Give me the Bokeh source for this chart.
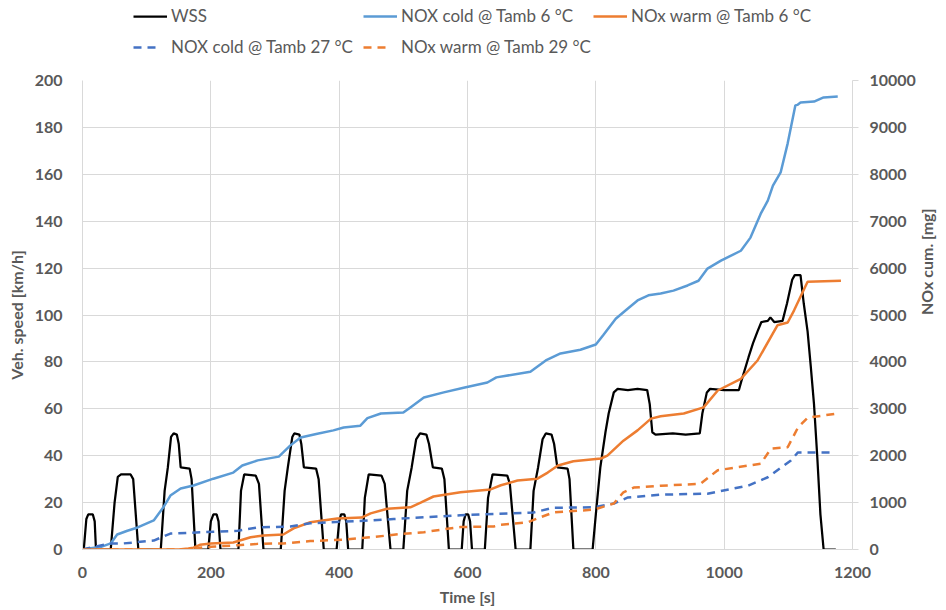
import math
from bokeh.plotting import figure
from bokeh.layouts import column
from bokeh.models import Range1d, LinearAxis, SingleIntervalTicker, Legend, LegendItem
from bokeh.embed import file_html
from bokeh.resources import INLINE

# ---- data ----
wss_t = [0, 2, 6, 9, 16, 19, 21,
         44, 50, 55, 60, 75, 79, 87,
         122, 128, 133, 138, 142, 147, 150, 153, 167, 170, 176,
         196, 200, 204, 209, 212, 215,
         243, 247, 252, 270, 275, 282,
         309, 315, 320, 327, 330, 338, 341, 345, 364, 368, 376,
         396, 400, 403, 408, 411, 414,
         436, 440, 446, 466, 471, 480,
         500, 506, 513, 520, 526, 536, 540, 546, 560, 564, 571,
         591, 594, 597, 601, 604, 607,
         627, 632, 639, 662, 666, 675,
         698, 703, 710, 717, 722, 731, 735, 740, 756, 759, 765,
         795, 800, 807, 815, 820, 828, 834, 850, 865, 880, 884, 888, 893, 920, 940, 962,
         966, 973, 978, 1000, 1023, 1027, 1038, 1045, 1052, 1058, 1068, 1072, 1078, 1091,
         1098, 1106, 1110, 1119, 1124, 1130, 1135, 1140, 1145, 1150, 1155, 1174]
wss_v = [0, 0, 13, 15, 15, 12, 0,
         0, 20, 31, 32, 32, 30, 0,
         0, 25, 35, 48, 49.5, 49, 45, 35, 34.5, 30, 0,
         0, 12, 15, 15, 12, 0,
         0, 25, 32, 31.5, 28, 0,
         0, 25, 35, 48, 49.5, 49, 45, 35, 34.5, 30, 0,
         0, 12, 15, 15, 12, 0,
         0, 22, 32, 31.5, 28, 0,
         0, 25, 35, 47, 49.5, 49, 45, 35, 34.5, 30, 0,
         0, 12, 15, 15, 12, 0,
         0, 22, 32, 31.5, 28, 0,
         0, 25, 35, 47, 49.5, 49, 45, 35, 34.5, 30, 0,
         0, 15, 35, 50, 58, 67, 68.5, 68, 68.5, 68, 62, 50, 49, 49.5, 49, 49.5,
         58, 67, 68.5, 68, 68, 72, 82, 88, 93, 97, 97.5, 99, 97, 97.5,
         105, 115, 117, 117, 105, 93, 78, 62, 40, 15, 0, 0]

cold6_t = [0, 10, 30, 44, 54, 70, 86, 111, 126, 137, 153, 173, 204, 235, 249, 273, 306, 324, 340,
           366, 391, 407, 433, 444, 465, 500, 511, 532, 563, 594, 631, 645, 698, 722, 745, 776,
           800, 812, 831, 850, 865, 882, 901, 921, 943, 960, 974, 995, 1026, 1041, 1057, 1068,
           1076, 1088, 1099, 1111, 1114, 1119, 1140, 1155, 1177]
cold6_n = [0, 20, 60, 130, 320, 400, 470, 620, 900, 1150, 1300, 1365, 1510, 1640, 1790, 1900, 1980,
           2220, 2390, 2470, 2540, 2600, 2640, 2800, 2900, 2920, 3030, 3240, 3350, 3450, 3560, 3670,
           3790, 4030, 4180, 4260, 4370, 4580, 4920, 5140, 5310, 5420, 5460, 5520, 5630, 5730, 5990,
           6160, 6370, 6650, 7160, 7440, 7760, 8040, 8660, 9470, 9480, 9530, 9550, 9640, 9660]

warm6_t = [0, 150, 165, 173, 183, 200, 235, 262, 282, 313, 329, 355, 397, 435, 449, 475, 511, 527,
           547, 589, 636, 652, 678, 709, 725, 741, 765, 808, 818, 843, 865, 886, 901, 937, 968, 990,
           1026, 1052, 1083, 1099, 1109, 1130, 1182]
warm6_n = [0, 0, 20, 40, 100, 130, 150, 260, 300, 320, 450, 580, 660, 680, 770, 870, 900, 1000,
           1130, 1220, 1280, 1370, 1470, 1510, 1640, 1790, 1880, 1940, 2000, 2320, 2540, 2790, 2840,
           2900, 3030, 3390, 3640, 4030, 4780, 4840, 5100, 5710, 5730]

cold27_t = [0, 20, 44, 64, 111, 137, 189, 242, 273, 324, 355, 449, 485, 589, 703, 734, 797, 828,
            850, 901, 974, 1037, 1068, 1104, 1115, 1169]
cold27_n = [0, 60, 130, 130, 190, 340, 370, 400, 470, 490, 560, 620, 650, 730, 790, 890, 900, 980,
            1110, 1170, 1190, 1360, 1540, 1900, 2070, 2070]

warm29_t = [0, 173, 183, 200, 242, 273, 313, 355, 407, 449, 496, 532, 589, 641, 652, 694, 714, 734,
            797, 828, 843, 859, 901, 963, 990, 1057, 1073, 1099, 1115, 1130, 1177]
warm29_n = [0, 0, 40, 60, 90, 120, 130, 180, 210, 260, 330, 370, 480, 490, 530, 580, 690, 790,
            850, 980, 1220, 1320, 1360, 1400, 1690, 1830, 2150, 2180, 2600, 2810, 2900]

labels = ["WSS", "NOX cold @ Tamb 6 \u00b0C", "NOx warm @ Tamb 6 \u00b0C",
          "NOX cold @ Tamb 27 \u00b0C", "NOx warm @ Tamb 29 \u00b0C"]

FONT = "Lato"
GRID = "#d9d9d9"
TXT = "#595959"
styles = [dict(line_color="black", line_width=2.25),
          dict(line_color="#5b9bd5", line_width=2.5),
          dict(line_color="#ed7d31", line_width=2.5),
          dict(line_color="#4472c4", line_width=2.5, line_dash="8 6"),
          dict(line_color="#ed7d31", line_width=2.5, line_dash="8 6")]
series = [(wss_t, wss_v), (cold6_t, cold6_n), (warm6_t, warm6_n),
          (cold27_t, cold27_n), (warm29_t, warm29_n)]

# ---------------- main chart ----------------
p = figure(frame_width=770, frame_height=469, output_backend="svg", toolbar_location=None,
           x_range=Range1d(0, 1200), y_range=Range1d(0, 200),
           min_border_left=82, min_border_right=94, min_border_top=16, min_border_bottom=61)
p.above = []
p.outline_line_color = None
p.extra_y_ranges = {"nox": Range1d(0, 10000)}

p.xaxis.ticker = SingleIntervalTicker(interval=200)
p.yaxis.ticker = SingleIntervalTicker(interval=20)
p.xgrid.ticker = SingleIntervalTicker(interval=200)
p.ygrid.ticker = SingleIntervalTicker(interval=20)
p.xgrid.grid_line_color = GRID
p.ygrid.grid_line_color = GRID

right = LinearAxis(y_range_name="nox", ticker=SingleIntervalTicker(interval=1000))
p.add_layout(right, "right")

for ax in [p.xaxis[0], p.yaxis[0], right]:
    ax.axis_line_color = GRID
    ax.major_tick_in = 0
    ax.major_tick_out = 0
    ax.minor_tick_line_color = None
    ax.major_label_text_font = FONT
    ax.major_label_text_font_style = "bold"
    ax.major_label_text_font_size = "16px"
    ax.major_label_text_color = TXT
    ax.axis_label_text_font = FONT
    ax.axis_label_text_font_style = "bold"
    ax.axis_label_text_font_size = "16px"
    ax.axis_label_text_color = TXT

right.major_tick_out = 6
right.major_tick_line_color = GRID
right.major_label_standoff = 11
right.axis_label = "NOx cum. [mg]"
right.axis_label_standoff = 8
if "axis_label_orientation" in right.properties():
    right.axis_label_orientation = math.pi / 2

p.yaxis[0].axis_label = "Veh. speed [km/h]"
p.yaxis[0].major_label_standoff = 16
p.yaxis[0].axis_label_standoff = 6
p.xaxis[0].axis_label = "Time [s]"
p.xaxis[0].major_label_standoff = 13
p.xaxis[0].axis_label_standoff = 6

p.line(wss_t, wss_v, **styles[0])
p.line(cold6_t, cold6_n, y_range_name="nox", **styles[1])
p.line(warm6_t, warm6_n, y_range_name="nox", **styles[2])
p.line(cold27_t, cold27_n, y_range_name="nox", **styles[3])
p.line(warm29_t, warm29_n, y_range_name="nox", **styles[4])

# ---------------- legend strip (same series, kept out of its view) ----------------
lg = figure(width=946, height=64, output_backend="svg", toolbar_location=None,
            x_axis_location=None, y_axis_location=None, min_border=0,
            x_range=Range1d(0, 1200), y_range=Range1d(-2e5, -1e5))
lg.above = []
lg.outline_line_color = None
lg.xgrid.visible = False
lg.ygrid.visible = False
keys = [lg.line(x, y, **s) for (x, y), s in zip(series, styles)]

common = dict(orientation="horizontal", glyph_height=18, label_height=18, label_width=184,
              spacing=8, padding=0, margin=0, border_line_color=None, background_fill_alpha=0,
              label_text_font=FONT, label_text_font_size="17px", label_text_color=TXT)
leg1 = Legend(items=[LegendItem(label=labels[i], renderers=[keys[i]]) for i in range(3)],
              location=(51, 38), glyph_width=34, label_standoff=4, **common)
leg2 = Legend(items=[LegendItem(label=labels[i], renderers=[keys[i]]) for i in range(3, 5)],
              location=(51, 7), glyph_width=27, label_standoff=11, **common)
lg.add_layout(leg1)
lg.add_layout(leg2)

layout = column(lg, p, spacing=0)
open("out.html", "w").write(file_html(layout, INLINE))
